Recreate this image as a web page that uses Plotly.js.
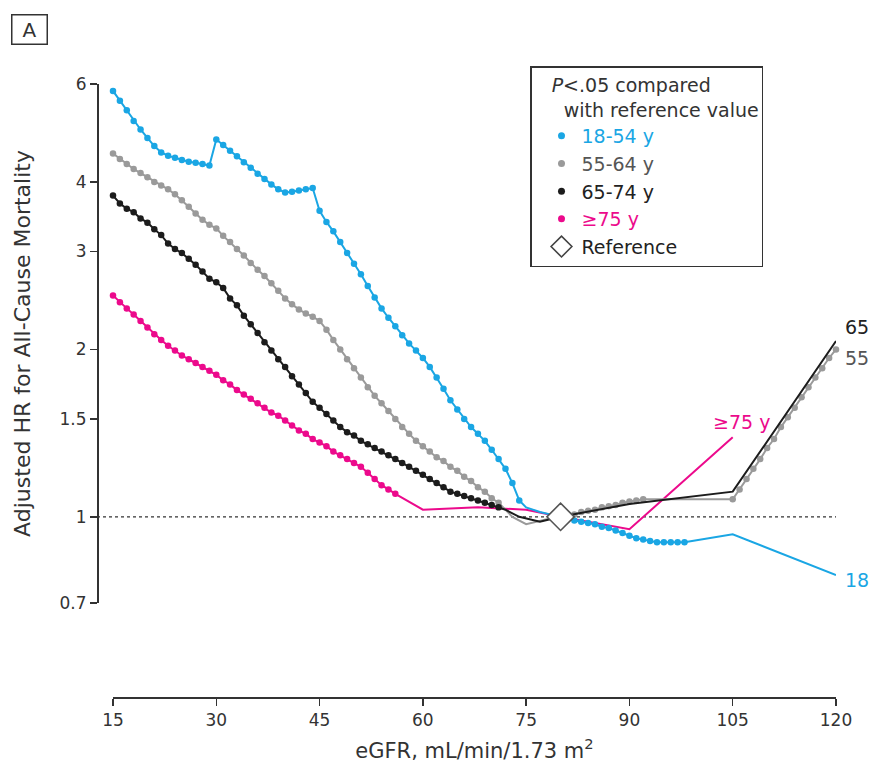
<!DOCTYPE html>
<html>
<head>
<meta charset="utf-8">
<script src="https://cdn.plot.ly/plotly-3.0.1.min.js"></script>
<style>html,body{margin:0;padding:0;background:#fff}</style>
</head>
<body>
<div id="chart" style="width:870px;height:771px"></div>
<script>
// ---- data (eGFR, adjusted HR) ----
const blueX = [15,16,17,18,19,20,21,22,23,24,25,26,27,28,29,30,31,32,33,34,35,36,37,38,39,40,41,42,43,44,45,46,47,48,49,50,51,52,53,54,55,56,57,58,59,60,61,62,63,64,65,66,67,68,69,70,71,72,73,74,75,77,80,81,82,83,84,85,86,87,88,89,90,91,92,93,94,95,96,97,98,105,120];
const blueY = [5.83,5.60,5.38,5.15,4.97,4.80,4.64,4.52,4.46,4.42,4.38,4.35,4.33,4.31,4.28,
  4.77,4.66,4.55,4.45,4.34,4.24,4.14,4.05,3.96,3.88,
  3.83,3.84,3.86,3.88,3.90,
  3.55,3.39,3.26,3.12,2.98,2.85,2.73,2.60,2.48,2.37,
  2.28,2.20,2.12,2.05,1.99,1.93,1.86,1.78,1.70,1.62,
  1.56,1.50,1.45,1.41,1.37,1.32,1.27,1.22,1.15,1.07,
  1.04,1.02,1.00,
  0.99,0.985,0.98,0.975,0.97,0.96,0.955,0.945,0.935,0.925,0.915,0.91,0.905,0.90,0.90,0.90,0.90,0.90,
  0.93,0.786];
const blueSig = [[15,74],[82,98]];

const grayX = [15,16,17,18,19,20,21,22,23,24,25,26,27,28,29,30,31,32,33,34,35,36,37,38,39,40,41,42,43,44,45,46,47,48,49,50,51,52,53,54,55,56,57,58,59,60,61,62,63,64,65,66,67,68,69,70,71,73,75,78,80,81,82,83,84,85,86,87,88,89,90,91,92,105,106,107,108,109,110,111,112,113,114,115,116,117,118,119,120];
const grayY = [4.50,4.40,4.31,4.22,4.15,4.08,4.00,3.94,3.88,3.80,3.71,3.61,3.51,3.42,3.35,
  3.30,3.20,3.12,3.03,2.95,2.86,2.78,2.71,2.63,2.55,
  2.47,2.41,2.36,2.32,2.29,2.25,2.17,2.08,2.00,1.92,
  1.85,1.78,1.71,1.65,1.60,1.55,1.50,1.45,1.41,1.37,
  1.34,1.31,1.28,1.26,1.23,1.21,1.18,1.16,1.13,1.11,
  1.08,1.06,
  1.00,0.97,0.99,1.00,
  1.005,1.01,1.02,1.025,1.03,1.04,1.045,1.05,1.06,1.065,1.07,1.075,
  1.075,
  1.12,1.17,1.22,1.27,1.33,1.38,1.45,1.51,1.57,1.64,1.71,1.78,1.85,1.93,2.00];
const graySig = [[15,71],[81,92],[105,120]];

const blackX = [15,16,17,18,19,20,21,22,23,24,25,26,27,28,29,30,31,32,33,34,35,36,37,38,39,40,41,42,43,44,45,46,47,48,49,50,51,52,53,54,55,56,57,58,59,60,61,62,63,64,65,66,67,68,69,70,71,72,74,77,80,90,105,120];
const blackY = [3.78,3.66,3.58,3.53,3.44,3.38,3.29,3.21,3.10,3.03,2.98,2.91,2.84,2.76,2.68,
  2.64,2.58,2.47,2.40,2.30,2.22,2.14,2.06,1.99,1.92,
  1.86,1.79,1.73,1.67,1.61,1.57,1.53,1.49,1.45,1.42,
  1.40,1.37,1.35,1.33,1.31,1.29,1.27,1.25,1.23,1.21,
  1.19,1.17,1.15,1.13,1.11,1.10,1.09,1.08,1.07,1.06,
  1.05,1.04,1.03,
  1.00,0.98,1.00,
  1.055,1.11,2.07];
const blackSig = [[15,71]];

const pinkX = [15,16,17,18,19,20,21,22,23,24,25,26,27,28,29,30,31,32,33,34,35,36,37,38,39,40,41,42,43,44,45,46,47,48,49,50,51,52,53,54,55,56,60,68,75,80,90,105];
const pinkY = [2.50,2.43,2.37,2.31,2.25,2.19,2.13,2.08,2.03,1.99,1.95,1.92,1.89,1.86,1.83,
  1.80,1.76,1.73,1.69,1.66,1.63,1.60,1.57,1.54,1.52,
  1.49,1.46,1.43,1.41,1.38,1.36,1.34,1.31,1.29,1.27,
  1.25,1.23,1.20,1.17,1.14,1.12,1.10,
  1.03,1.04,1.03,1.00,0.95,1.39];
const pinkSig = [[15,56]];

const refX = [80];
const refY = [1.0];

const seriesNames = ['18-54 y','55-64 y','65-74 y','≥75 y'];
const seriesColors = ['#1aa6e4','#9a9a9a','#1c1c1c','#ec0a8c'];
const legendTextColors = ['#1aa6e4','#555555','#222222','#ec0a8c'];
const endLabels = ['18','55','65'];

const xTicks = [15,30,45,60,75,90,105,120];
const yTicks = [0.7,1,1.5,2,3,4,6];
const yTickText = ['0.7','1','1.5','2','3','4','6'];

// ---- build traces ----
function sigPoints(xs, ys, ranges){
  const ox=[], oy=[];
  xs.forEach((x,i)=>{ if (ranges.some(r=>x>=r[0]&&x<=r[1])) { ox.push(x); oy.push(ys[i]); } });
  return {x:ox, y:oy};
}
const series = [
  {x:pinkX, y:pinkY, sig:pinkSig, idx:3},
  {x:blueX, y:blueY, sig:blueSig, idx:0},
  {x:grayX, y:grayY, sig:graySig, idx:1},
  {x:blackX, y:blackY, sig:blackSig, idx:2}
];
const traces = [];
series.forEach(s=>{
  const c = seriesColors[s.idx];
  traces.push({x:s.x, y:s.y, type:'scatter', mode:'lines', line:{color:c, width:2}, showlegend:false, cliponaxis:false, hoverinfo:'skip'});
  const p = sigPoints(s.x, s.y, s.sig);
  traces.push({x:p.x, y:p.y, type:'scatter', mode:'markers', marker:{color:c, size:6.5}, showlegend:false, cliponaxis:false});
});
traces.push({x:refX, y:refY, type:'scatter', mode:'markers', marker:{symbol:'diamond', size:21, color:'#ffffff', line:{color:'#555555', width:1.6}}, showlegend:false, cliponaxis:false});
// legend entries
[0,1,2,3].forEach(i=>{
  traces.push({x:[null], y:[null], type:'scatter', mode:'markers', marker:{color:seriesColors[i], size:7},
    name:'<span style="color:'+legendTextColors[i]+'">'+seriesNames[i]+'</span>', showlegend:true});
});
traces.push({x:[null], y:[null], type:'scatter', mode:'markers', marker:{symbol:'diamond', size:16, color:'#ffffff', line:{color:'#444', width:1.6}}, name:'Reference', showlegend:true});

// ---- layout ----
const L=97, R=34, T=84, B=74, W=870, H=771;
const pw = W-L-R, ph = H-T-B;
const xDom0 = 16/pw;
const yDom0 = 94/ph;
const yR0 = Math.log10(0.7), yR1 = Math.log10(6);
const yOneFrac = yDom0 + (Math.log10(1)-yR0)/(yR1-yR0)*(1-yDom0);
const font = 'DejaVu Sans, Liberation Sans, Arial, sans-serif';

function lastPt(xs, ys){ return {x:xs[xs.length-1], y:Math.log10(ys[ys.length-1])}; }
const bEnd = lastPt(blueX, blueY), gEnd = lastPt(grayX, grayY), kEnd = lastPt(blackX, blackY), pEnd = lastPt(pinkX, pinkY);

const layout = {
  width:W, height:H,
  margin:{l:L, r:R, t:T, b:B, pad:0},
  paper_bgcolor:'#ffffff', plot_bgcolor:'#ffffff',
  font:{family:font, color:'#333333', size:18},
  showlegend:true,
  xaxis:{domain:[xDom0,1], range:[15,120], anchor:'free', position:0,
    showline:true, linecolor:'#333', linewidth:1.5, ticks:'outside', ticklen:7, tickwidth:1.5, tickcolor:'#333',
    tickvals:xTicks, showgrid:false, zeroline:false, tickfont:{size:17, color:'#333'},
    title:{text:'eGFR, mL/min/1.73 m<sup>2</sup>', font:{size:21, color:'#333'}, standoff:14}},
  yaxis:{type:'log', domain:[yDom0,1], range:[yR0,yR1], anchor:'free', position:0,
    showline:true, linecolor:'#333', linewidth:1.5, ticks:'outside', ticklen:7, tickwidth:1.5, tickcolor:'#333',
    tickvals:yTicks, ticktext:yTickText, showgrid:false, zeroline:false, tickfont:{size:17, color:'#333'},
    title:{text:'Adjusted HR for All-Cause Mortality', font:{size:22, color:'#333'}, standoff:21}},
  legend:{x:(530-L)/pw, y:(H-B-66)/ph, xanchor:'left', yanchor:'top',
    bgcolor:'#ffffff', bordercolor:'#333', borderwidth:1.5,
    font:{size:19, color:'#222'},
    title:{text:'&nbsp;&nbsp;&nbsp;<i>P</i>&lt;.05 compared<br>&nbsp;&nbsp;&nbsp;&nbsp;&nbsp;with reference value', font:{size:19, color:'#333'}},
    itemsizing:'trace', tracegroupgap:0, indentation:10},
  shapes:[
    {type:'line', xref:'paper', yref:'paper', x0:0, x1:1, y0:yOneFrac, y1:yOneFrac, line:{color:'#333', width:1.3, dash:'dot'}, layer:'below'}
  ],
  annotations:[
    {xref:'paper', yref:'paper', x:(29-L)/pw, y:(H-B-30)/ph, text:'A', showarrow:false, font:{size:20, color:'#333'},
      bordercolor:'#333', borderwidth:1.5, width:32, height:26, borderpad:1, xanchor:'center', yanchor:'middle'},
    {x:kEnd.x, y:kEnd.y, text:endLabels[2], showarrow:false, xanchor:'left', yanchor:'middle', xshift:7, yshift:14, font:{size:19, color:'#222'}},
    {x:gEnd.x, y:gEnd.y, text:endLabels[1], showarrow:false, xanchor:'left', yanchor:'middle', xshift:7, yshift:-9, font:{size:19, color:'#555'}},
    {x:bEnd.x, y:bEnd.y, text:endLabels[0], showarrow:false, xanchor:'left', yanchor:'middle', xshift:7, yshift:-5, font:{size:19, color:'#1aa6e4'}},
    {x:pEnd.x, y:pEnd.y, text:'≥75 y', showarrow:false, xanchor:'center', yanchor:'middle', xshift:9, yshift:15, font:{size:19, color:'#ec0a8c'}}
  ]
};

Plotly.newPlot('chart', traces, layout, {displayModeBar:false, staticPlot:true});
</script>
</body>
</html>
